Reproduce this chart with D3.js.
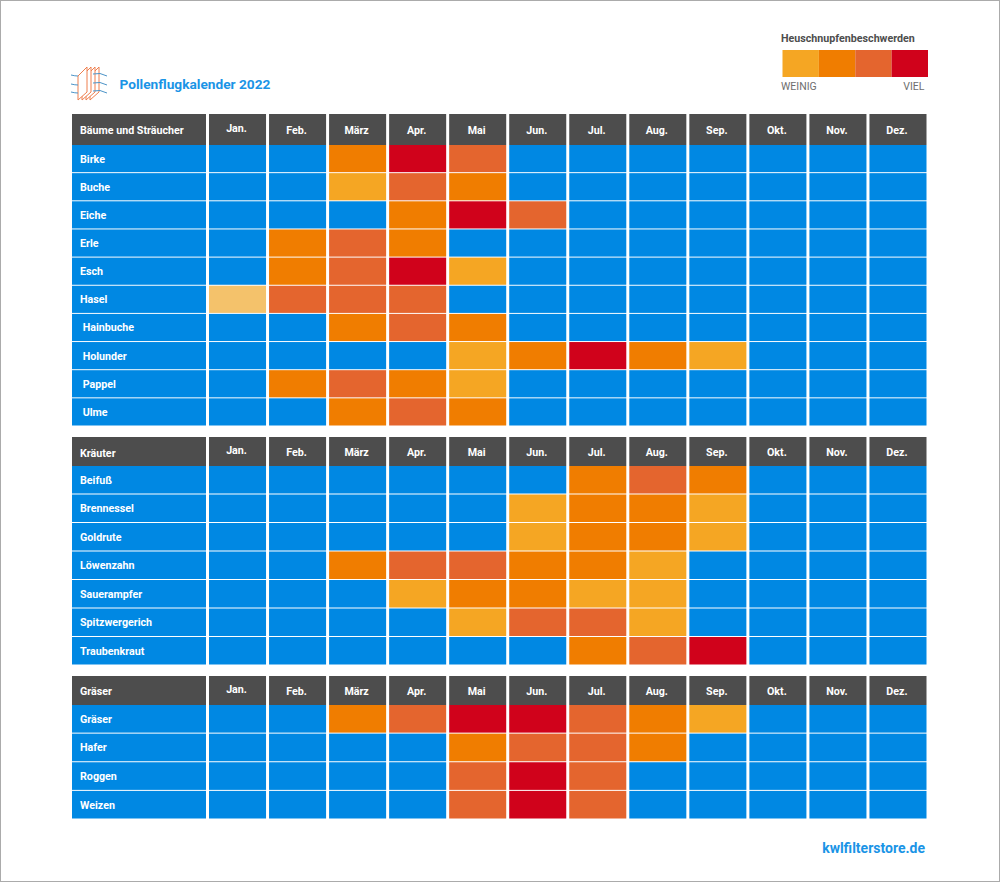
<!DOCTYPE html>
<html>
<head>
<meta charset="utf-8">
<script src="https://cdn.jsdelivr.net/npm/d3@7"></script>
<style>
    body { margin: 0; background: #fff; }
    text { font-family: Roboto, "Noto Sans", sans-serif; }
</style>
</head>
<body>
<div id="chart"></div>
<script>
const months = ["Jan.", "Feb.", "März", "Apr.", "Mai", "Jun.", "Jul.", "Aug.", "Sep.", "Okt.", "Nov.", "Dez."];

// 0 = keine Belastung, 0.5 = sehr schwach, 1-4 = weinig bis viel
const baeumeNames = ["Birke", "Buche", "Eiche", "Erle", "Esch", "Hasel", " Hainbuche", " Holunder", " Pappel", " Ulme"];
const baeumeValues = [
    [0, 0, 2, 4, 3, 0, 0, 0, 0, 0, 0, 0],
    [0, 0, 1, 3, 2, 0, 0, 0, 0, 0, 0, 0],
    [0, 0, 0, 2, 4, 3, 0, 0, 0, 0, 0, 0],
    [0, 2, 3, 2, 0, 0, 0, 0, 0, 0, 0, 0],
    [0, 2, 3, 4, 1, 0, 0, 0, 0, 0, 0, 0],
    [0.5, 3, 3, 3, 0, 0, 0, 0, 0, 0, 0, 0],
    [0, 0, 2, 3, 2, 0, 0, 0, 0, 0, 0, 0],
    [0, 0, 0, 0, 1, 2, 4, 2, 1, 0, 0, 0],
    [0, 2, 3, 2, 1, 0, 0, 0, 0, 0, 0, 0],
    [0, 0, 2, 3, 2, 0, 0, 0, 0, 0, 0, 0]
];

const kraeuterNames = ["Beifuß", "Brennessel", "Goldrute", "Löwenzahn", "Sauerampfer", "Spitzwergerich", "Traubenkraut"];
const kraeuterValues = [
    [0, 0, 0, 0, 0, 0, 2, 3, 2, 0, 0, 0],
    [0, 0, 0, 0, 0, 1, 2, 2, 1, 0, 0, 0],
    [0, 0, 0, 0, 0, 1, 2, 2, 1, 0, 0, 0],
    [0, 0, 2, 3, 3, 2, 2, 1, 0, 0, 0, 0],
    [0, 0, 0, 1, 2, 2, 1, 1, 0, 0, 0, 0],
    [0, 0, 0, 0, 1, 3, 3, 1, 0, 0, 0, 0],
    [0, 0, 0, 0, 0, 0, 2, 3, 4, 0, 0, 0]
];

const graeserNames = ["Gräser", "Hafer", "Roggen", "Weizen"];
const graeserValues = [
    [0, 0, 2, 3, 4, 4, 3, 2, 1, 0, 0, 0],
    [0, 0, 0, 0, 2, 3, 3, 2, 0, 0, 0, 0],
    [0, 0, 0, 0, 3, 4, 3, 0, 0, 0, 0, 0],
    [0, 0, 0, 0, 3, 4, 3, 0, 0, 0, 0, 0]
];

const levels = [0, 0.5, 1, 2, 3, 4];
const levelColors = ["#0088e3", "#f4c26b", "#f5a623", "#f07d00", "#e4652e", "#d0021b"];
const legendLevels = [1, 2, 3, 4];

const width = 1000;
const height = 882;

const color = d3.scaleOrdinal().domain(levels).range(levelColors);

const x = d3.scaleBand().domain(d3.range(months.length)).range([209, 926.5]).paddingInner(0.05);

const svg = d3
    .select("#chart")
    .append("svg")
    .attr("width", width)
    .attr("height", height)
    .style("display", "block");

// Rahmen
svg.append("rect")
    .attr("x", 0.5)
    .attr("y", 0.5)
    .attr("width", width - 1)
    .attr("height", height - 1)
    .attr("fill", "#fff")
    .attr("stroke", "#ababab");

function drawHeaderCell(g, cx, w, y, h, label, anchor, dy) {
    g.append("rect")
        .attr("x", cx)
        .attr("y", y)
        .attr("width", w)
        .attr("height", h)
        .attr("fill", "#4d4d4d");
    g.append("text")
        .attr("x", anchor === "middle" ? cx + w / 2 - 1 : cx + 8)
        .attr("y", y + h / 2 + 4 + dy)
        .attr("text-anchor", anchor)
        .attr("fill", "#fff")
        .style("font-size", "10.7px")
        .style("font-weight", "bold")
        .text(label);
}

function drawSection(title, names, values, top, headerBottom, bottom, titleDy) {
    const g = svg.append("g");
    const y = d3.scaleBand().domain(names).range([headerBottom, bottom]).paddingInner(0.035);

    drawHeaderCell(g, 72, 134, top, headerBottom - top, title, "start", titleDy);
    months.forEach((m, i) => {
        // "Jan." sitzt im Original etwas hoeher
        drawHeaderCell(g, x(i), x.bandwidth(), top, headerBottom - top, m, "middle", i === 0 ? -1.5 : 0);
    });

    const row = g
        .selectAll(".row")
        .data(names)
        .enter()
        .append("g")
        .attr("class", "row");

    row.append("rect")
        .attr("x", 72)
        .attr("y", (d) => y(d))
        .attr("width", 134)
        .attr("height", y.bandwidth())
        .attr("fill", color(0));

    row.append("text")
        .attr("x", 80)
        .attr("y", (d) => y(d) + y.bandwidth() / 2 + 4)
        .attr("fill", "#fff")
        .style("font-size", "10.7px")
        .style("font-weight", "bold")
        .style("white-space", "pre")
        .text((d) => d);

    row.selectAll(".cell")
        .data((d, i) => values[i].map((v, m) => ({ name: d, month: m, value: v })))
        .enter()
        .append("rect")
        .attr("class", "cell")
        .attr("x", (d) => x(d.month))
        .attr("y", (d) => y(d.name))
        .attr("width", x.bandwidth())
        .attr("height", y.bandwidth())
        .attr("fill", (d) => color(d.value));
}

drawSection("Bäume und Sträucher", baeumeNames, baeumeValues, 114, 145, 425.5, 0);
drawSection("Kräuter", kraeuterNames, kraeuterValues, 437, 466, 664.5, 1);
drawSection("Gräser", graeserNames, graeserValues, 676, 705, 818.5, 0);

// Titel und Logo
svg.append("text")
    .attr("x", 119.5)
    .attr("y", 89)
    .attr("fill", "#1a94e6")
    .style("font-size", "13.7px")
    .style("font-weight", "bold")
    .text("Pollenflugkalender 2022");

const logo = svg.append("g").attr("fill", "#fff").attr("stroke-width", 1);
[3, 2, 1, 0].forEach((i) => {
    logo.append("path")
        .attr("transform", `translate(${i * 4},0)`)
        .attr("d", "M78 76 L87 67 L87 92 L78 100 Z")
        .attr("stroke", "#ee7f4f");
});
[75, 84, 92].forEach((ly) => {
    logo.append("path")
        .attr("fill", "none")
        .attr("d", `M71 ${ly} q4 1 7 1`)
        .attr("stroke", "#4c94c8");
    logo.append("path")
        .attr("fill", "none")
        .attr("d", `M93 ${ly - 1} q7 -2 14 2`)
        .attr("stroke", "#4c94c8");
});

// Legende
svg.append("text")
    .attr("x", 781)
    .attr("y", 41.5)
    .attr("fill", "#4d4d4d")
    .style("font-size", "10.7px")
    .style("font-weight", "bold")
    .text("Heuschnupfenbeschwerden");

const legendX = d3.scaleBand().domain(legendLevels).range([782.5, 928]);

svg.selectAll(".legend")
    .data(legendLevels)
    .enter()
    .append("rect")
    .attr("class", "legend")
    .attr("x", (d) => legendX(d))
    .attr("y", 50)
    .attr("width", legendX.bandwidth())
    .attr("height", 27)
    .attr("fill", (d) => color(d));

svg.append("text")
    .attr("x", 781)
    .attr("y", 90)
    .attr("fill", "#6e6e6e")
    .style("font-size", "10.5px")
    .text("WEINIG");

svg.append("text")
    .attr("x", 924.5)
    .attr("y", 90)
    .attr("text-anchor", "end")
    .attr("fill", "#6e6e6e")
    .style("font-size", "10.5px")
    .text("VIEL");

svg.append("text")
    .attr("x", 925)
    .attr("y", 853)
    .attr("text-anchor", "end")
    .attr("fill", "#1a94e6")
    .style("font-size", "14px")
    .style("font-weight", "bold")
    .text("kwlfilterstore.de");
</script>
</body>
</html>
